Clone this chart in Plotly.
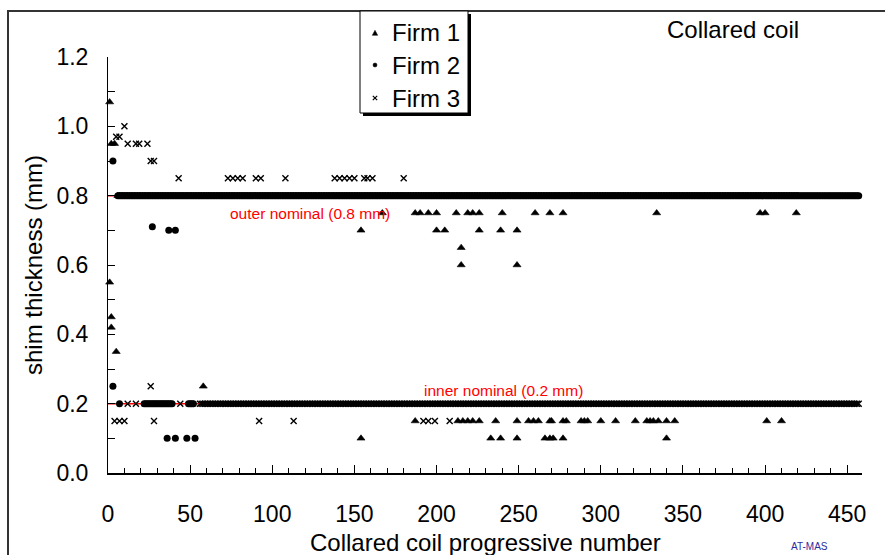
import plotly.graph_objects as go

# ---------------------------------------------------------------- data
OUTER_NOMINAL = 0.8          # mm
INNER_NOMINAL = 0.2          # mm
LAST_COIL = 457

# Coil ranges (first, last progressive number) whose shims sit on the nominal value
F1_OUTER_RUN = (6, 420)
F2_OUTER_RUN = (6, 457)
F2_INNER_RUNS = [(22, 39), (49, 52)]
F2_INNER_SINGLES = [7]
F3_INNER_RUN = (56, 457)
F3_INNER_SINGLES = [12, 17, 44]

# Off-nominal shims: thickness (mm) -> coil numbers
F1_OFF = {
    1.07: [1],
    0.95: [2, 4],
    0.75: [167, 187, 190, 195, 200, 212, 219, 222, 226, 240, 260, 269, 277,
           334, 397, 400, 419],
    0.70: [154, 200, 205, 226, 239, 249],
    0.65: [215],
    0.60: [215, 249],
    0.55: [1],
    0.45: [2],
    0.42: [2],
    0.35: [5],
    0.25: [58],
    0.15: [187, 213, 216, 219, 222, 226, 236, 249, 256, 259, 262, 269, 270,
           277, 279, 288, 290, 292, 300, 309, 321, 328, 330, 332, 335, 340,
           345, 401, 410],
    0.10: [154, 233, 239, 249, 266, 269, 271, 277, 340],
}
F2_OFF = {
    0.90: [3],
    0.71: [27],
    0.70: [37, 41],
    0.25: [3],
    0.10: [36, 41, 48, 53],
}
F3_OFF = {
    1.00: [10],
    0.97: [5, 7],
    0.95: [12, 17, 19, 24],
    0.90: [26, 28],
    0.85: [43, 73, 76, 79, 82, 90, 93, 108, 138, 141, 144, 147, 150, 156,
           158, 161, 180],
    0.25: [26],
    0.15: [4, 7, 10, 28, 92, 113, 192, 195, 199, 208],
}

FIRMS = ["Firm 1", "Firm 2", "Firm 3"]
FONT = "Arial, Liberation Sans, sans-serif"


def run_points(run, value):
    coils = list(range(run[0], run[1] + 1))
    return coils, [value] * len(coils)


def collect(runs, singles, value, off):
    xs, ys = [], []
    for run in runs:
        c, v = run_points(run, value)
        xs += c
        ys += v
    xs += singles
    ys += [value] * len(singles)
    for mm, coils in off.items():
        xs += coils
        ys += [mm] * len(coils)
    return xs, ys


f1_x, f1_y = collect([F1_OUTER_RUN], [], OUTER_NOMINAL, F1_OFF)
f2_x, f2_y = collect([F2_OUTER_RUN], [], OUTER_NOMINAL, F2_OFF)
f2ix, f2iy = collect(F2_INNER_RUNS, F2_INNER_SINGLES, INNER_NOMINAL, {})
f2_x += f2ix
f2_y += f2iy
f3_x, f3_y = collect([F3_INNER_RUN], F3_INNER_SINGLES, INNER_NOMINAL, F3_OFF)

# ---------------------------------------------------------------- geometry
W, H = 885, 555
L, R, T, B = 108, 23, 57, 82
PW, PH = W - L - R, H - T - B


def px(xp):
    return (xp - L) / PW


def py(yp):
    return (H - B - yp) / PH


MARKERS = [
    dict(symbol="triangle-up", size=7, color="black",
         line=dict(width=0.6, color="black")),
    dict(symbol="circle", size=7, color="black",
         line=dict(width=0, color="black")),
    dict(symbol="x-thin", size=6, color="black",
         line=dict(width=1.4, color="black")),
]

# ---------------------------------------------------------------- figure
fig = go.Figure()

# nominal reference lines (red, underneath the markers)
for level in (OUTER_NOMINAL, INNER_NOMINAL):
    fig.add_trace(go.Scatter(
        x=[0, LAST_COIL], y=[level, level], mode="lines",
        line=dict(color="#ff0000", width=1.5),
        showlegend=False, hoverinfo="skip", cliponaxis=False))

for name, xs, ys, mk in zip(FIRMS, [f1_x, f2_x, f3_x], [f1_y, f2_y, f3_y],
                            MARKERS):
    fig.add_trace(go.Scatter(x=xs, y=ys, mode="markers", name=name,
                             cliponaxis=False, marker=mk, showlegend=False))

# legend key: boxed list of the three firms at the top of the figure
LEG_LEFT, LEG_RIGHT, LEG_TOP, LEG_BOTTOM = 360, 468, 11, 113
LEG_ROWS = [33, 65, 98]
KEY_X = 375


def pt(xp, yp):
    return f"{px(xp):.5f},{py(yp):.5f}"


def key_shapes():
    tri_y, dot_y, x_y = LEG_ROWS
    tri = dict(type="path", xref="paper", yref="paper", layer="above",
               path=("M" + pt(KEY_X - 2.7, tri_y + 2.3) + " L"
                     + pt(KEY_X + 2.7, tri_y + 2.3) + " L"
                     + pt(KEY_X, tri_y - 2.7) + " Z"),
               fillcolor="black", line=dict(width=0.5, color="black"))
    dot = dict(type="circle", xref="paper", yref="paper", layer="above",
               x0=px(KEY_X - 2), x1=px(KEY_X + 2),
               y0=py(dot_y + 2), y1=py(dot_y - 2),
               fillcolor="black", line=dict(width=0.5, color="black"))
    cross = [
        dict(type="line", xref="paper", yref="paper", layer="above",
             x0=px(KEY_X - 2.2), x1=px(KEY_X + 2.2),
             y0=py(x_y - 2.2), y1=py(x_y + 2.2),
             line=dict(width=1.2, color="black")),
        dict(type="line", xref="paper", yref="paper", layer="above",
             x0=px(KEY_X - 2.2), x1=px(KEY_X + 2.2),
             y0=py(x_y + 2.2), y1=py(x_y - 2.2),
             line=dict(width=1.2, color="black")),
    ]
    return [tri, dot] + cross


legend_text = [
    dict(text=name, xref="paper", yref="paper", x=px(390), y=py(yr),
         xanchor="left", yanchor="middle", showarrow=False,
         font=dict(size=24))
    for name, yr in zip(FIRMS, LEG_ROWS)
]

fig.update_layout(
    width=W, height=H, autosize=False,
    margin=dict(l=L, r=R, t=T, b=B, pad=0),
    paper_bgcolor="white", plot_bgcolor="rgba(0,0,0,0)",
    font=dict(family=FONT, color="black", size=23),
    showlegend=False,
    xaxis=dict(range=[0, 459], tickmode="linear", tick0=0, dtick=50,
               ticks="inside", ticklen=8, tickwidth=1, tickcolor="black",
               showline=True, linecolor="black", linewidth=2,
               showgrid=False, zeroline=False, ticklabelstandoff=19,
               tickfont=dict(size=23),
               minor=dict(dtick=10, ticks="inside", ticklen=5,
                          tickcolor="black", tickwidth=1, showgrid=False)),
    yaxis=dict(range=[0, 1.2], tickmode="linear", tick0=0, dtick=0.2,
               tickformat=".1f",
               ticks="inside", ticklen=7, tickwidth=1, tickcolor="black",
               showline=True, linecolor="black", linewidth=1,
               showgrid=False, zeroline=False, ticklabelstandoff=14,
               tickfont=dict(size=23),
               minor=dict(dtick=0.1, ticks="inside", ticklen=7,
                          tickcolor="black", tickwidth=1, showgrid=False)),
    shapes=[
        # outer frame of the figure
        dict(type="rect", xref="paper", yref="paper", layer="below",
             x0=px(8), x1=px(893), y0=py(563), y1=py(11),
             line=dict(color="#333333", width=2), fillcolor="rgba(0,0,0,0)"),
        # legend drop shadow and box
        dict(type="rect", xref="paper", yref="paper", layer="below",
             x0=px(LEG_LEFT + 3), x1=px(LEG_RIGHT + 3),
             y0=py(LEG_BOTTOM + 3), y1=py(LEG_TOP + 3),
             line=dict(width=0), fillcolor="black"),
        dict(type="rect", xref="paper", yref="paper", layer="below",
             x0=px(LEG_LEFT), x1=px(LEG_RIGHT),
             y0=py(LEG_BOTTOM), y1=py(LEG_TOP),
             line=dict(width=1, color="black"), fillcolor="white"),
    ] + key_shapes(),
    annotations=legend_text + [
        dict(text="Collared coil", xref="paper", yref="paper",
             x=px(733), y=py(29), xanchor="center", yanchor="middle",
             showarrow=False, font=dict(size=24)),
        dict(text="shim thickness (mm)", xref="paper", yref="paper",
             x=px(33), y=0.5, xanchor="center", yanchor="middle",
             textangle=-90, showarrow=False, font=dict(size=24)),
        dict(text="Collared coil progressive number", xref="paper",
             yref="paper", x=0.5, y=py(542), xanchor="center",
             yanchor="middle", showarrow=False, font=dict(size=24)),
        dict(text="AT-MAS", xref="paper", yref="paper",
             x=px(809), y=py(546), xanchor="center", yanchor="middle",
             showarrow=False, font=dict(size=10, color="#2b2b9e")),
        dict(text="outer nominal (0.8 mm)", x=73, y=0.75, xref="x", yref="y",
             xanchor="left", yanchor="middle", showarrow=False,
             font=dict(size=15.5, color="#ff0000")),
        dict(text="inner nominal (0.2 mm)", x=191, y=0.237, xref="x",
             yref="y", xanchor="left", yanchor="middle", showarrow=False,
             font=dict(size=15.5, color="#ff0000")),
    ],
)

fig.write_html("out.html")
